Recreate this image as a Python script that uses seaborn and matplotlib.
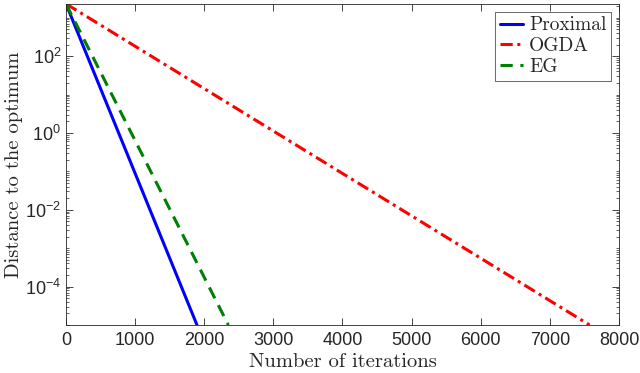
import numpy as np
import pandas as pd
import matplotlib
matplotlib.use("Agg")
import matplotlib.pyplot as plt
import matplotlib.ticker as mticker
import seaborn as sns

# Data (straight lines on a log axis)
methods = ['Proximal', 'OGDA', 'EG']
iters_start = [0, 0, 0]
iters_end = [1895, 7575, 2349]
dist_start = [2300, 2300, 2300]
dist_end = [1e-5, 1e-5, 1e-5]

rows = []
for m, x0, x1, y0, y1 in zip(methods, iters_start, iters_end, dist_start, dist_end):
    rows.append({'method': m, 'iter': x0, 'dist': y0})
    rows.append({'method': m, 'iter': x1, 'dist': y1})
df = pd.DataFrame(rows)

sns.set_style("ticks")
plt.rcParams['mathtext.fontset'] = 'custom'
plt.rcParams['mathtext.rm'] = 'Liberation Sans'
plt.rcParams['mathtext.it'] = 'Liberation Sans'
plt.rcParams['font.family'] = ['Liberation Sans', 'DejaVu Sans']

fig = plt.figure(figsize=(6.4, 3.73), dpi=100)
ax = fig.add_axes([0.1031, 0.1287, 0.864, 0.861])

colors = {'Proximal': '#0000ff', 'OGDA': '#ff0000', 'EG': '#008000'}
dashes = {'Proximal': '', 'OGDA': (4, 1.5, 1, 1.5), 'EG': (4, 2.5)}
sns.lineplot(data=df, x='iter', y='dist', hue='method', style='method',
             palette=colors, dashes=dashes, hue_order=methods, style_order=methods,
             linewidth=2.2, ax=ax, legend=True)

ax.set_yscale('log')
ax.set_xlim(0, 8000)
ax.set_ylim(1e-5, 2300)
ax.set_xticks(np.arange(0, 8001, 1000))
ax.yaxis.set_major_locator(mticker.FixedLocator([1e-4, 1e-2, 1, 1e2]))
ax.yaxis.set_major_formatter(mticker.LogFormatterSciNotation())
ax.yaxis.set_minor_locator(mticker.LogLocator(base=10, subs=np.arange(1, 10), numticks=50))
ax.yaxis.set_minor_formatter(mticker.NullFormatter())

for s in ax.spines.values():
    s.set_color('#262626')
    s.set_linewidth(0.6)
ax.tick_params(which='both', direction='in', top=True, right=True, color='#262626',
               labelsize=13, labelcolor='#262626')
ax.tick_params(axis='x', pad=5)
ax.tick_params(which='major', length=5, width=0.6)
ax.tick_params(which='minor', length=2.5, width=0.5)

ax.set_xlabel('Number of iterations', family='cmr10', fontsize=14.8)
ax.set_ylabel('Distance to the optimum', family='cmr10', fontsize=14.8)
ax.xaxis.set_label_coords(0.5, -0.086)
ax.yaxis.set_label_coords(-0.077, 0.5)

leg = ax.legend(loc='upper right', frameon=True, fancybox=False,
                handlelength=1.2, handletextpad=0.3, borderpad=0.25, labelspacing=0.15,
                borderaxespad=0.4, prop={'family': 'cmr10', 'size': 14})
leg.get_frame().set_edgecolor('#262626')
leg.get_frame().set_linewidth(0.6)

fig.savefig('out.png', dpi=100)
